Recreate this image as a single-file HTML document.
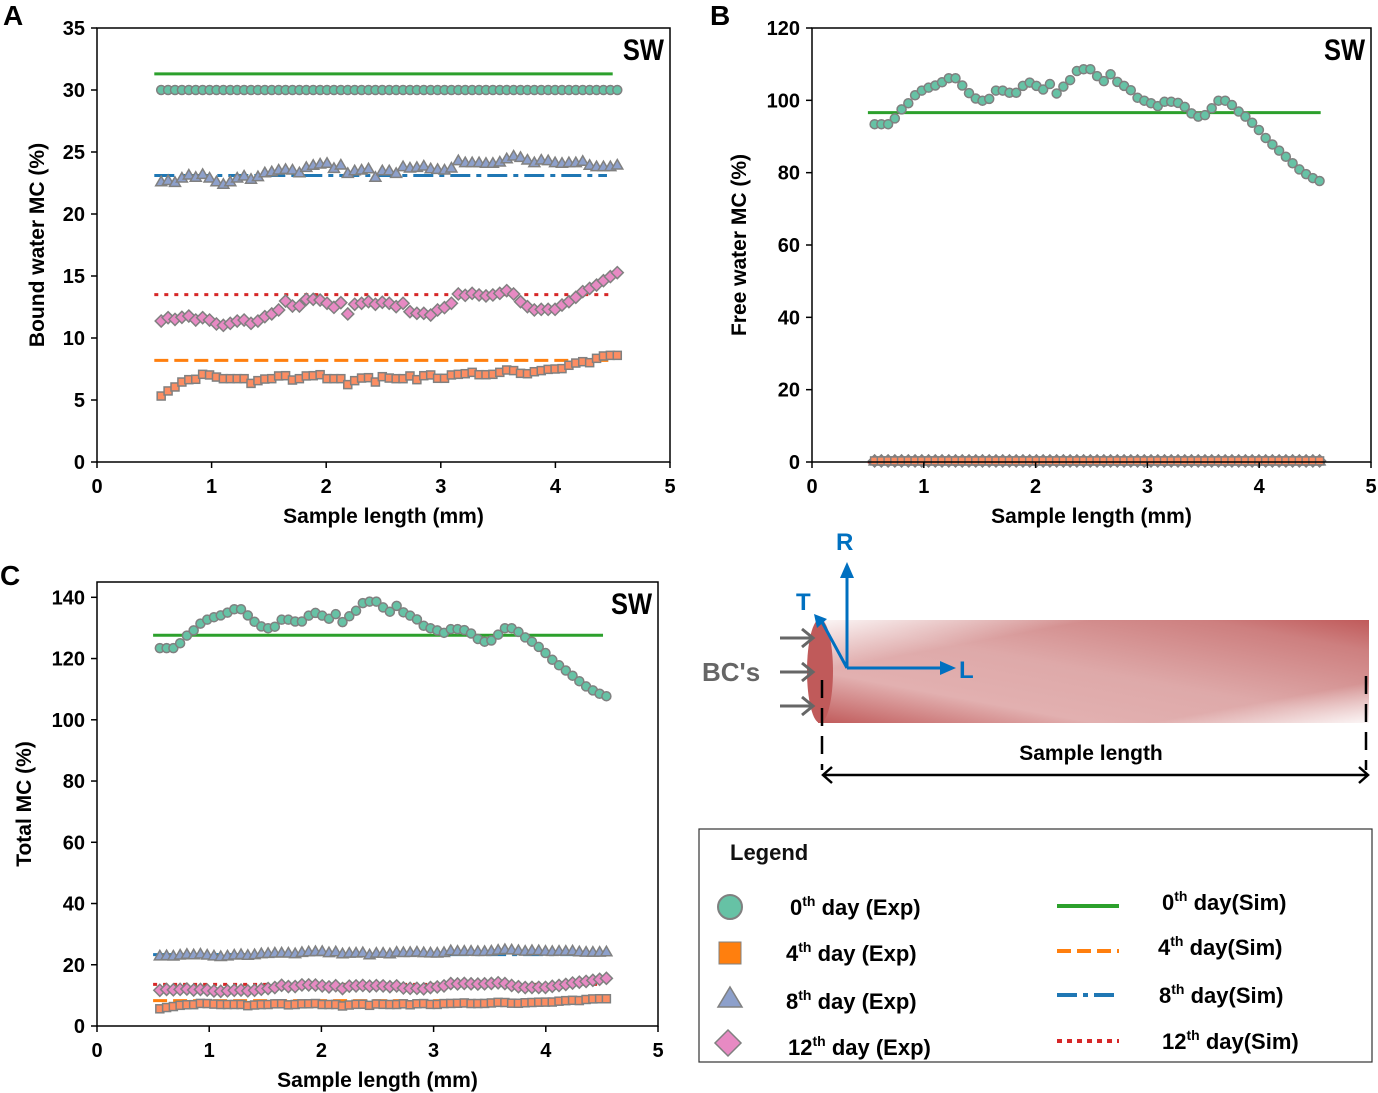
<!DOCTYPE html>
<html><head><meta charset="utf-8"><style>
body{margin:0;background:#fff}
svg{display:block;font-family:"Liberation Sans",sans-serif}
</style></head><body>
<svg id="fig" width="1378" height="1093" viewBox="0 0 1378 1093" xmlns="http://www.w3.org/2000/svg">
<defs>
<linearGradient id="cylgrad" x1="0" y1="1" x2="1" y2="0">
<stop offset="0" stop-color="#c05a5a"/><stop offset="0.25" stop-color="#e2b0b0"/><stop offset="0.5" stop-color="#dea9a9"/><stop offset="0.85" stop-color="#cd7f7f"/><stop offset="1" stop-color="#c05a5a"/>
</linearGradient>
<linearGradient id="cylgrad2" x1="0" y1="0" x2="1" y2="1">
<stop offset="0" stop-color="#fff" stop-opacity="0.9"/><stop offset="0.25" stop-color="#fff" stop-opacity="0"/><stop offset="0.8" stop-color="#fff" stop-opacity="0"/><stop offset="1" stop-color="#fff" stop-opacity="0.9"/>
</linearGradient>
</defs>
<g id="panels"></g>
<g>
<rect x="818" y="620" width="551" height="103" fill="url(#cylgrad)"/>
<rect x="818" y="620" width="551" height="103" fill="url(#cylgrad2)"/>
<ellipse cx="820" cy="671" rx="13" ry="52" fill="#c05a5a"/>
<g stroke="#666" stroke-width="3" fill="none">
<path d="M780 638H812M802 629L813 638L802 647"/><path d="M780 672H812M802 663L813 672L802 681"/><path d="M780 706H812M802 697L813 706L802 715"/>
</g>
<text x="702" y="681" font-size="26" font-weight="bold" fill="#666">BC's</text>
<g stroke="#0070c0" stroke-width="3" fill="#0070c0">
<path d="M847 668V575" fill="none"/><path d="M840 578L847 562L854 578Z" stroke="none"/>
<path d="M847 668H942" fill="none"/><path d="M940 661L956 668L940 675Z" stroke="none"/>
<path d="M847 668L822 622" fill="none"/><path d="M814 614L827 619L817 628Z" stroke="none"/>
</g>
<text x="836" y="550" font-size="24" font-weight="bold" fill="#0070c0">R</text>
<text x="796" y="610" font-size="24" font-weight="bold" fill="#0070c0">T</text>
<text x="959" y="678" font-size="24" font-weight="bold" fill="#0070c0">L</text>
<path d="M822 680V770M1366 676V770" stroke="#000" stroke-width="2.5" stroke-dasharray="18,10"/>
<g stroke="#000" stroke-width="2.5" fill="none"><path d="M823 775H1368M832 767L823 775L832 783M1359 767L1368 775L1359 783"/></g>
<text x="1091" y="760" font-size="21" font-weight="bold" text-anchor="middle">Sample length</text>
</g>
<g font-weight="bold">
<rect x="699" y="829" width="673" height="233" fill="#fff" stroke="#333" stroke-width="1.2"/>
<text x="730" y="860" font-size="22" fill="#111">Legend</text>
<g><circle cx="730" cy="907" r="12" fill="#66c2a5" stroke="#808080" stroke-width="2"/><text x="790" y="915" font-size="22">0<tspan font-size="14" dy="-9">th</tspan><tspan dy="9"> day (Exp)</tspan></text></g>
<g><rect x="719" y="942" width="22" height="22" fill="#ff7f0e" stroke="#808080" stroke-width="1"/><text x="786" y="961" font-size="22">4<tspan font-size="14" dy="-9">th</tspan><tspan dy="9"> day (Exp)</tspan></text></g>
<g><path d="M730 987L742 1007H718Z" fill="#8da0cb" stroke="#808080" stroke-width="1.5"/><text x="786" y="1009" font-size="22">8<tspan font-size="14" dy="-9">th</tspan><tspan dy="9"> day (Exp)</tspan></text></g>
<g><path d="M728 1030L741 1043L728 1056L715 1043Z" fill="#e78ac3" stroke="#808080" stroke-width="1.5"/><text x="788" y="1055" font-size="22">12<tspan font-size="14" dy="-9">th</tspan><tspan dy="9"> day (Exp)</tspan></text></g>
<g><path d="M1057 906H1119" stroke="#2ca02c" stroke-width="4"/><text x="1162" y="910" font-size="22">0<tspan font-size="14" dy="-9">th</tspan><tspan dy="9"> day(Sim)</tspan></text></g>
<g><path d="M1057 951H1119" stroke="#ff7f0e" stroke-width="4" stroke-dasharray="14,6"/><text x="1158" y="955" font-size="22">4<tspan font-size="14" dy="-9">th</tspan><tspan dy="9"> day(Sim)</tspan></text></g>
<g><path d="M1057 995H1119" stroke="#1f77b4" stroke-width="4" stroke-dasharray="20,6,5,6"/><text x="1159" y="1003" font-size="22">8<tspan font-size="14" dy="-9">th</tspan><tspan dy="9"> day(Sim)</tspan></text></g>
<g><path d="M1057 1041H1119" stroke="#d62728" stroke-width="4" stroke-dasharray="5,5"/><text x="1162" y="1049" font-size="22">12<tspan font-size="14" dy="-9">th</tspan><tspan dy="9"> day(Sim)</tspan></text></g>
</g>
</svg>
<script>
const xTicks=[0,1,2,3,4,5];
const nPts=67, xStart=0.56, xEnd=4.54;
const bound0=Array(67).fill(30);
const bound4=[5.32,5.73,6.05,6.45,6.64,6.67,7.07,7.02,6.85,6.72,6.72,6.72,6.72,6.34,6.56,6.69,6.72,6.94,6.96,6.61,6.72,6.94,6.96,7.04,6.72,6.72,6.72,6.24,6.56,6.77,6.8,6.45,6.88,6.77,6.72,6.72,6.94,6.64,6.96,7.02,6.75,6.75,7.02,7.07,7.12,7.23,7.04,7.04,7.07,7.23,7.42,7.37,7.15,7.12,7.28,7.37,7.47,7.5,7.53,7.8,7.98,8.09,8.01,8.36,8.55,8.6,8.6];
const bound8=[22.6,22.7,22.55,22.9,23.15,22.96,23.2,22.9,22.6,22.4,22.6,22.9,23.06,22.8,23.01,23.33,23.41,23.55,23.6,23.55,23.33,23.76,23.93,24.03,24.09,23.68,23.95,23.28,23.49,23.55,23.65,22.96,23.49,23.49,23.28,23.82,23.71,23.76,23.87,23.65,23.6,23.55,23.71,24.3,24.14,24.14,24.14,24.09,24.09,24.19,24.46,24.68,24.57,24.35,24.14,24.35,24.3,24.14,24.09,24.14,24.14,24.25,23.93,23.82,23.82,23.82,23.95];
const bound12=[11.37,11.64,11.5,11.67,11.77,11.45,11.64,11.45,11.13,11.02,11.18,11.37,11.45,11.18,11.37,11.72,11.94,12.26,12.98,12.58,12.58,13.12,13.12,13.06,12.8,12.47,12.85,11.94,12.72,12.8,12.93,12.72,12.88,12.8,12.53,12.8,12.12,11.99,11.99,11.85,12.26,12.45,12.8,13.55,13.44,13.6,13.47,13.39,13.47,13.6,13.82,13.55,12.93,12.53,12.26,12.31,12.31,12.31,12.66,12.93,13.28,13.74,14.0,14.27,14.62,14.95,15.27];
const free0=[93.4,93.4,93.4,95.0,97.5,99.2,101.4,102.7,103.5,104.1,105.0,106.1,106.1,104.1,102.0,100.5,99.9,100.4,102.7,102.7,102.1,102.1,104.0,104.9,104.0,103.0,104.5,101.9,103.8,105.6,108.1,108.6,108.6,106.7,105.3,107.2,105.1,104.0,102.8,100.7,99.9,99.2,98.4,99.6,99.6,99.3,98.2,96.4,95.5,95.9,97.8,99.9,99.9,98.7,96.9,95.5,93.8,91.8,89.6,87.8,86.1,84.4,82.6,80.9,79.6,78.5,77.7];
const freeLow=Array(67).fill(0.3);
const total0=free0.map((v,i)=>v+bound0[i]);
const total4=bound4.map((v,i)=>v+freeLow[i]);
const total8=bound8.map((v,i)=>v+freeLow[i]);
const total12=bound12.map((v,i)=>v+freeLow[i]);
const simBound=[31.3,8.2,23.1,13.5];
const simFree=[96.6,0,0,0];
const simTotal=[127.6,8.3,23.3,13.6];
const simRange=[0.5,4.5];

const NS='http://www.w3.org/2000/svg';
const root=document.getElementById('panels');
function el(tag,attrs,parent){const e=document.createElementNS(NS,tag);for(const k in attrs)e.setAttribute(k,attrs[k]);(parent||root).appendChild(e);return e;}
const styles={
 0:{fill:'#66c2a5',shape:'circle',line:'#2ca02c',dash:''},
 4:{fill:'#fc8d62',shape:'square',line:'#ff7f0e',dash:'14,6'},
 8:{fill:'#8da0cb',shape:'tri',line:'#1f77b4',dash:'20,6,5,6'},
 12:{fill:'#e78ac3',shape:'diamond',line:'#d62728',dash:'4,6'}
};
function panel(cfg){
 const g=el('g',{});
 
 
 const X=v=>cfg.l+(v-0)/5*(cfg.r-cfg.l);
 const Y=v=>cfg.b-(v/cfg.ymax)*(cfg.b-cfg.t);
 cfg.days.forEach((d,k)=>{
  const s=styles[d];
  const ln=el('line',{x1:X(simRange[0]),x2:X(cfg.simEnd[k]),y1:Y(cfg.sim[k]),y2:Y(cfg.sim[k]),stroke:s.line,'stroke-width':3,'stroke-dasharray':s.dash},g);
  
  
 });
 cfg.days.slice().reverse().forEach(d=>{
  const s=styles[d];const data=cfg.series[d];
  const sg=el('g',{fill:s.fill,stroke:'#808080','stroke-width':1.5},g);
  
  
  data.forEach((v,i)=>{
   const x=X(xStart+i*(xEnd-xStart)/(nPts-1)),y=Y(v);let m;
   if(s.shape==='circle')m=el('circle',{cx:x,cy:y,r:4.5},sg);
   else if(s.shape==='square')m=el('rect',{x:x-4,y:y-4,width:8,height:8},sg);
   else if(s.shape==='tri')m=el('path',{d:`M${x} ${y-5.5}L${x+5.5} ${y+4}L${x-5.5} ${y+4}Z`},sg);
   else m=el('path',{d:`M${x} ${y-6}L${x+6} ${y}L${x} ${y+6}L${x-6} ${y}Z`},sg);
   
   
  });
 });
 const fr=el('rect',{x:cfg.l,y:cfg.t,width:cfg.r-cfg.l,height:cfg.b-cfg.t,fill:'none',stroke:'#000','stroke-width':1.5},g);
 
 
 xTicks.forEach(v=>{
  el('line',{x1:X(v),x2:X(v),y1:cfg.b,y2:cfg.b+6,stroke:'#000','stroke-width':1.5},g);
  const t=el('text',{x:X(v),y:cfg.b+31,'font-size':20,'font-weight':'bold','text-anchor':'middle'},g);t.textContent=v;
  
  
 });
 cfg.yTicks.forEach(v=>{
  el('line',{x1:cfg.l-6,x2:cfg.l,y1:Y(v),y2:Y(v),stroke:'#000','stroke-width':1.5},g);
  const t=el('text',{x:cfg.l-12,y:Y(v)+7,'font-size':20,'font-weight':'bold','text-anchor':'end'},g);t.textContent=v;
  
  
 });
 const xl=el('text',{x:(cfg.l+cfg.r)/2,y:cfg.b+61,'font-size':21,'font-weight':'bold','text-anchor':'middle'},g);xl.textContent='Sample length (mm)';
 
 
 const yl=el('text',{x:cfg.ylx,y:(cfg.t+cfg.b)/2,'font-size':21,'font-weight':'bold','text-anchor':'middle',transform:`rotate(-90 ${cfg.ylx} ${(cfg.t+cfg.b)/2})`},g);yl.textContent=cfg.ytitle;
 
 
 const sw=el('text',{x:cfg.r-6,y:cfg.t+32,'font-size':30,'font-weight':'bold','text-anchor':'end',transform:`scale(0.85 1)`,'transform-origin':`${cfg.r-6}px ${cfg.t}px`},g);sw.textContent='SW';
 
 
 const pl=el('text',{x:cfg.lx,y:cfg.ly,'font-size':28,'font-weight':'bold'},g);pl.textContent=cfg.letter;
 
 
}
panel({name:'panel-a-bound-water',l:97,r:670,t:28,b:462,ymax:35,yTicks:[0,5,10,15,20,25,30,35],ytitle:'Bound water MC (%)',ylx:44,letter:'A',lx:3,ly:25,days:[0,4,8,12],series:{0:bound0,4:bound4,8:bound8,12:bound12},sim:simBound,simEnd:[4.5,4.5,4.45,4.5]});
panel({name:'panel-b-free-water',l:812,r:1371,t:28,b:462,ymax:120,yTicks:[0,20,40,60,80,100,120],ytitle:'Free water MC (%)',ylx:746,letter:'B',lx:710,ly:25,days:[0,4,8,12],series:{0:free0,4:freeLow,8:freeLow,12:freeLow},sim:simFree,simEnd:[4.55,4.55,4.55,4.55]});
panel({name:'panel-c-total',l:97,r:658,t:582,b:1026,ymax:145,yTicks:[0,20,40,60,80,100,120,140],ytitle:'Total MC (%)',ylx:31,letter:'C',lx:0,ly:585,days:[0,4,8,12],series:{0:total0,4:total4,8:total8,12:total12},sim:simTotal,simEnd:[4.51,4.51,4.51,4.51]});
</script>
</body></html>
